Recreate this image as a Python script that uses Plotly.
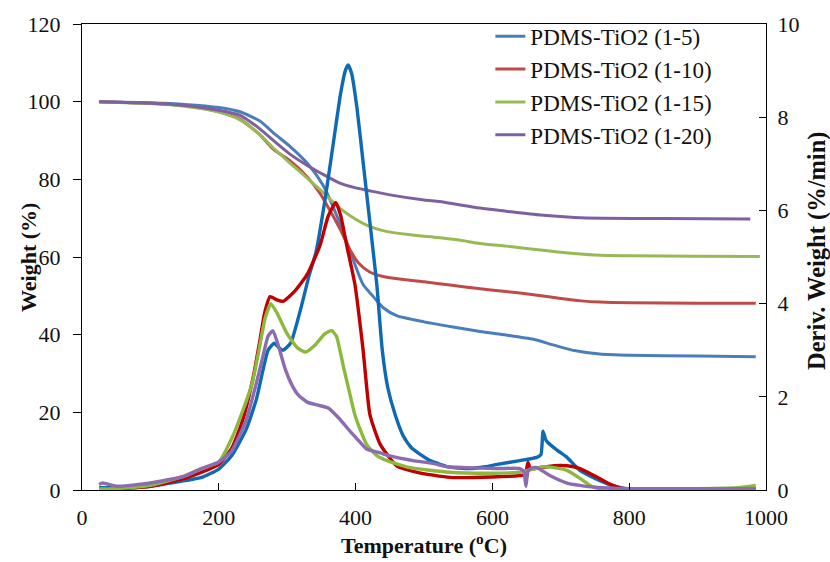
import plotly.graph_objects as go

# ---- Thermogravimetric data: PDMS-TiO2 composites ----
series_names = ["PDMS-TiO2 (1-5)", "PDMS-TiO2 (1-10)", "PDMS-TiO2 (1-15)", "PDMS-TiO2 (1-20)"]

# Weight (%) vs temperature (°C)
tga_t_15 = [25, 100, 150, 200, 231, 260, 283, 304, 330, 352, 374, 387, 396, 411, 426, 440, 460, 500, 538, 582, 620, 660, 690, 720, 757, 800, 900, 985]
tga_w_15 = [100, 99.7, 99.3, 98.5, 97.4, 95.0, 91.5, 88.5, 84.0, 78.6, 70.0, 63.8, 59.5, 52.9, 49.8, 47.0, 44.9, 43.3, 42.1, 40.8, 39.9, 38.8, 37.3, 35.9, 35.0, 34.7, 34.5, 34.3]

tga_t_110 = [25, 100, 150, 200, 231, 260, 280, 304, 330, 348, 365, 377, 392, 405, 420, 440, 470, 500, 538, 582, 620, 660, 700, 730, 757, 800, 900, 985]
tga_w_110 = [100, 99.6, 99.0, 97.4, 95.5, 91.5, 87.7, 84.8, 80.5, 76.4, 71.2, 67.3, 61.8, 58.3, 56.2, 55.0, 54.2, 53.6, 52.8, 51.8, 51.1, 50.3, 49.3, 48.7, 48.4, 48.2, 48.1, 48.1]

tga_t_115 = [25, 100, 150, 200, 231, 260, 280, 304, 330, 350, 365, 377, 392, 416, 440, 480, 520, 553, 582, 620, 660, 700, 750, 800, 900, 991]
tga_w_115 = [100, 99.5, 98.8, 97.3, 95.3, 91.5, 88.0, 84.2, 80.2, 77.0, 74.5, 72.6, 70.6, 68.2, 66.8, 65.7, 65.0, 64.3, 63.5, 62.8, 62.0, 61.2, 60.5, 60.3, 60.2, 60.1]

tga_t_120 = [25, 100, 150, 200, 231, 260, 283, 304, 330, 350, 377, 400, 417, 450, 500, 523, 553, 582, 620, 670, 720, 760, 850, 977]
tga_w_120 = [100, 99.6, 99.0, 97.8, 96.5, 93.0, 89.5, 86.5, 83.5, 81.5, 79.0, 77.8, 77.2, 76.0, 74.7, 74.3, 73.4, 72.6, 71.8, 70.8, 70.2, 70.0, 69.9, 69.8]

# Derivative weight (%/min) vs temperature (°C)
dtg_t_15 = [25, 50, 100, 150, 175, 200, 219, 240, 255, 265, 272, 281, 288, 294, 305, 320, 332, 342, 355, 368, 378, 385, 389, 394, 402, 412, 422, 431, 439, 447, 458, 470, 482, 509, 538, 563, 590, 607, 640, 665, 671, 674, 678, 681, 695, 709, 728, 750, 775, 800, 850, 900, 950, 985]
dtg_d_15 = [0.05, 0.05, 0.08, 0.2, 0.27, 0.45, 0.74, 1.3, 1.95, 2.6, 3.0, 3.15, 3.05, 3.0, 3.15, 3.9, 4.6, 5.1, 6.2, 7.5, 8.5, 9.0, 9.12, 8.95, 8.2, 6.9, 5.6, 4.41, 3.0, 2.2, 1.61, 1.15, 0.9, 0.63, 0.49, 0.46, 0.5, 0.55, 0.63, 0.7, 0.76, 1.26, 1.08, 1.02, 0.85, 0.7, 0.42, 0.25, 0.1, 0.02, 0.02, 0.02, 0.02, 0.02]

dtg_t_110 = [25, 50, 100, 150, 175, 200, 219, 235, 250, 260, 267, 275, 285, 294, 310, 329, 348, 360, 371, 378, 387, 399, 411, 421, 436, 460, 490, 538, 600, 640, 648, 652, 656, 670, 690, 709, 728, 750, 770, 790, 800, 900, 985]
dtg_d_110 = [0.0, 0.02, 0.08, 0.25, 0.38, 0.55, 0.9, 1.5, 2.4, 3.2, 3.8, 4.15, 4.08, 4.05, 4.25, 4.62, 5.25, 5.88, 6.17, 5.9, 5.25, 4.41, 3.0, 1.61, 0.98, 0.52, 0.38, 0.27, 0.28, 0.31, 0.33, 0.59, 0.45, 0.48, 0.52, 0.52, 0.46, 0.3, 0.14, 0.03, 0.02, 0.02, 0.02]

dtg_t_115 = [25, 50, 100, 150, 175, 200, 219, 235, 249, 260, 268, 276, 285, 300, 315, 327, 340, 355, 365, 372, 382, 391, 399, 408, 416, 430, 446, 480, 538, 600, 640, 660, 674, 690, 709, 728, 745, 760, 800, 900, 960, 985]
dtg_d_115 = [0.02, 0.03, 0.1, 0.3, 0.46, 0.6, 1.11, 1.7, 2.3, 3.1, 3.7, 4.0, 3.8, 3.35, 3.05, 2.96, 3.1, 3.35, 3.42, 3.3, 2.66, 2.1, 1.61, 1.25, 0.98, 0.75, 0.63, 0.48, 0.38, 0.36, 0.38, 0.45, 0.5, 0.48, 0.42, 0.25, 0.08, 0.02, 0.02, 0.03, 0.05, 0.1]

dtg_t_120 = [25, 30, 50, 100, 150, 175, 200, 219, 240, 255, 265, 272, 279, 287, 297, 307, 316, 330, 345, 360, 375, 392, 405, 416, 435, 450, 484, 513, 533, 560, 606, 640, 646, 649, 652, 657, 665, 684, 709, 728, 750, 800, 900, 985]
dtg_d_120 = [0.12, 0.15, 0.08, 0.15, 0.3, 0.46, 0.6, 0.84, 1.5, 2.3, 2.9, 3.3, 3.42, 3.1, 2.6, 2.25, 2.04, 1.88, 1.82, 1.76, 1.55, 1.26, 1.05, 0.88, 0.8, 0.73, 0.63, 0.57, 0.5, 0.48, 0.46, 0.46, 0.4, 0.08, 0.4, 0.47, 0.48, 0.31, 0.15, 0.1, 0.06, 0.03, 0.03, 0.03]

x_ticks = [0, 200, 400, 600, 800, 1000]
w_ticks = [0, 20, 40, 60, 80, 100, 120]
d_ticks = [0, 2, 4, 6, 8, 10]

tga_colors = ["#4A7EBB", "#BE4B48", "#98B954", "#7D60A0"]
dtg_colors = ["#0F6AB4", "#C00000", "#8DB83E", "#8C6BB1"]

tga = [(tga_t_15, tga_w_15), (tga_t_110, tga_w_110), (tga_t_115, tga_w_115), (tga_t_120, tga_w_120)]
dtg = [(dtg_t_15, dtg_d_15), (dtg_t_110, dtg_d_110), (dtg_t_115, dtg_d_115), (dtg_t_120, dtg_d_120)]

SERIF = "Liberation Serif"

fig = go.Figure()

for name, (t, w), c in zip(series_names, tga, tga_colors):
    fig.add_trace(go.Scatter(
        x=t, y=w, mode="lines", name=name,
        line=dict(color=c, width=3, shape="spline", smoothing=0.6),
        yaxis="y",
    ))

for name, (t, d), c in zip(series_names, dtg, dtg_colors):
    fig.add_trace(go.Scatter(
        x=t, y=d, mode="lines", name=name, showlegend=False,
        line=dict(color=c, width=3.4, shape="spline", smoothing=0.5),
        yaxis="y2",
    ))

tick_font = dict(family=SERIF, size=22, color="#111111")
title_font = dict(family=SERIF, size=22, color="#111111", weight="bold")

fig.update_layout(
    width=830, height=562,
    margin=dict(l=82, r=64, t=14, b=72),
    paper_bgcolor="white", plot_bgcolor="white",
    showlegend=True,
    legend=dict(
        x=0.597, y=1.02, xanchor="left", yanchor="top",
        bgcolor="rgba(0,0,0,0)", borderwidth=0,
        font=dict(family=SERIF, size=23, color="#111111"),
        tracegroupgap=0,
    ),
    xaxis=dict(
        range=[0, 1000], tickvals=x_ticks, ticks="inside", ticklen=7,
        tickcolor="black", showline=True, linecolor="black", linewidth=1.3,
        mirror=True, showgrid=False, zeroline=False, tickfont=tick_font,
        ticklabelstandoff=7,
        title=dict(text="Temperature (<sup>o</sup>C)", font=title_font, standoff=2),
    ),
    yaxis=dict(
        range=[0, 120], tickvals=w_ticks, ticks="outside", ticklen=8,
        tickcolor="black", showline=True, linecolor="black", linewidth=1.3,
        showgrid=False, zeroline=False, tickfont=tick_font, ticklabelstandoff=8,
    ),
    yaxis2=dict(
        range=[0, 10], tickvals=d_ticks, ticks="inside", ticklen=7,
        tickcolor="black", showline=True, linecolor="black", linewidth=1.3,
        overlaying="y", side="right", showgrid=False, zeroline=False,
        tickfont=tick_font, ticklabelstandoff=6,
    ),
    annotations=[
        dict(text="Weight (%)", font=title_font, textangle=-90,
             xref="paper", yref="paper", x=-0.079, y=0.5,
             xanchor="center", yanchor="middle", showarrow=False),
        dict(text="Deriv. Weight (%/min)",
             font=dict(family=SERIF, size=24.5, color="#111111", weight="bold"),
             textangle=-90, xref="paper", yref="paper", x=1.0746, y=0.513,
             xanchor="center", yanchor="middle", showarrow=False),
    ],
)

fig.write_html("out.html")
